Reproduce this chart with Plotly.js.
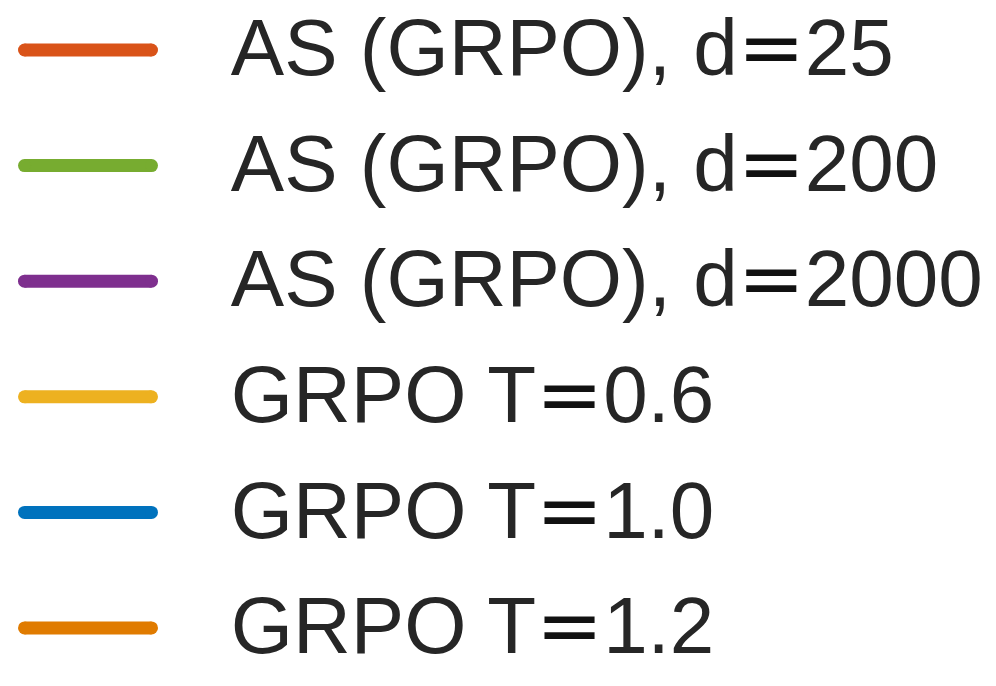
<!DOCTYPE html>
<html>
<head>
<meta charset="utf-8">
<script src="https://cdn.plot.ly/plotly-3.0.1.min.js"></script>
<style>
  html, body { margin:0; padding:0; background:#fff; }
  #chart { width:996px; height:686px; }
</style>
</head>
<body>
<div id="chart"></div>
<script>
// legend entries, top to bottom
const seriesNames = [
  'AS (GRPO), d=25',
  'AS (GRPO), d=200',
  'AS (GRPO), d=2000',
  'GRPO T=0.6',
  'GRPO T=1.0',
  'GRPO T=1.2'
];
const seriesColors = ['#d95319', '#77ac30', '#7e2f8e', '#edb120', '#0072bd', '#e07b00'];
const rowIndex = [0, 1, 2, 3, 4, 5];

// the "=" is drawn in the wider DejaVu glyph like the original mathtext
function fmtLabel(s){
  return s.replace('=', '<span style="font-family:\'DejaVu Sans\';color:#111">=</span>');
}

const traces = [];
seriesNames.forEach((name, i) => {
  traces.push({
    x: [0, 1], y: [rowIndex[i], rowIndex[i]],
    mode: 'lines+markers',
    line: { color: seriesColors[i], width: 13 },
    marker: { color: seriesColors[i], size: 13 },
    hoverinfo: 'skip'
  });
});
// label column (nudged a few px down so caps centre on the line)
traces.push({
  x: rowIndex.map(() => 1.625),
  y: rowIndex.map(r => r + 0.045),
  mode: 'text',
  text: seriesNames.map(fmtLabel),
  textposition: 'middle right',
  textfont: { family: 'Liberation Sans, Arial, sans-serif', size: 80, color: '#262626' },
  hoverinfo: 'skip',
  cliponaxis: false
});

const layout = {
  width: 996, height: 686,
  margin: { l:0, r:0, t:0, b:0 },
  paper_bgcolor: '#fff', plot_bgcolor: '#fff',
  showlegend: false,
  xaxis: { range: [-0.193, 7.650], visible: false, fixedrange: true },
  yaxis: { range: [5.502, -0.4325], visible: false, fixedrange: true }
};

Plotly.newPlot('chart', traces, layout, { staticPlot: true, displayModeBar: false });
</script>
</body>
</html>
